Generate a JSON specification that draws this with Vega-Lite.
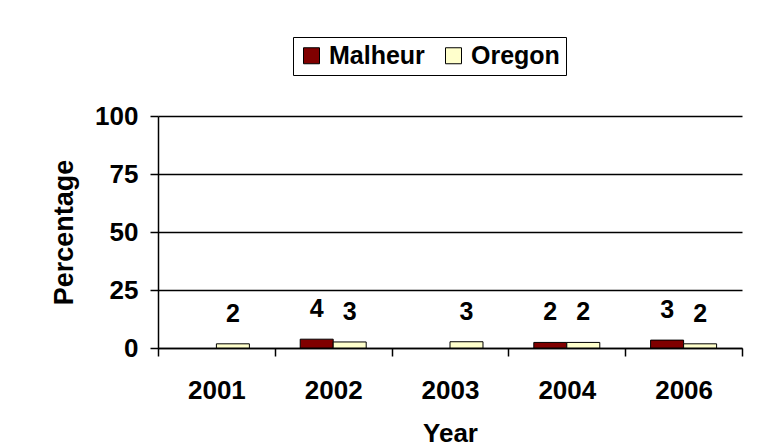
{
  "$schema": "https://vega.github.io/schema/vega-lite/v6.json",
  "width": 584,
  "height": 232,
  "autosize": "none",
  "padding": {"left": 158, "top": 116, "right": 21, "bottom": 100},
  "background": "white",
  "data": {
    "values": [
      {"Year": "2001", "Region": "Oregon", "Percentage": 1.8},
      {"Year": "2002", "Region": "Malheur", "Percentage": 3.8},
      {"Year": "2002", "Region": "Oregon", "Percentage": 2.6},
      {"Year": "2003", "Region": "Oregon", "Percentage": 2.7},
      {"Year": "2004", "Region": "Malheur", "Percentage": 2.4},
      {"Year": "2004", "Region": "Oregon", "Percentage": 2.4},
      {"Year": "2006", "Region": "Malheur", "Percentage": 3.4},
      {"Year": "2006", "Region": "Oregon", "Percentage": 1.8}
    ]
  },
  "encoding": {
    "x": {
      "field": "Year",
      "type": "nominal",
      "sort": ["2001", "2002", "2003", "2004", "2006"],
      "scale": {"paddingInner": 0, "paddingOuter": 0},
      "title": "Year",
      "axis": {
        "tickBand": "extent",
        "labelAngle": 0,
        "domainColor": "black",
        "domainWidth": 1.5,
        "tickColor": "black",
        "tickWidth": 1.5,
        "tickSize": 8,
        "labelFont": "Liberation Sans",
        "labelFontWeight": "bold",
        "labelFontSize": 26,
        "labelColor": "black",
        "labelPadding": 21,
        "titleFont": "Liberation Sans",
        "titleFontWeight": "bold",
        "titleFontSize": 26,
        "titleColor": "black",
        "titlePadding": 17
      }
    },
    "xOffset": {
      "field": "Region",
      "type": "nominal",
      "scale": {"domain": ["Malheur", "Oregon"], "paddingInner": 0, "paddingOuter": 0.77}
    },
    "y": {
      "field": "Percentage",
      "type": "quantitative",
      "scale": {"domain": [0, 100], "nice": false},
      "title": "Percentage",
      "axis": {
        "values": [0, 25, 50, 75, 100],
        "grid": true,
        "gridColor": "black",
        "gridWidth": 1.5,
        "gridOpacity": 1,
        "domainColor": "black",
        "domainWidth": 1.5,
        "tickColor": "black",
        "tickWidth": 1.5,
        "tickSize": 8,
        "labelFont": "Liberation Sans",
        "labelFontWeight": "bold",
        "labelFontSize": 26,
        "labelColor": "black",
        "labelPadding": 12,
        "titleFont": "Liberation Sans",
        "titleFontWeight": "bold",
        "titleFontSize": 27,
        "titleColor": "black",
        "titlePadding": 16
      }
    }
  },
  "layer": [
    {
      "mark": {"type": "bar", "stroke": "black", "strokeWidth": 1},
      "encoding": {
        "color": {
          "field": "Region",
          "type": "nominal",
          "scale": {"domain": ["Malheur", "Oregon"], "range": ["#800000", "#FFFFCC"]},
          "legend": {
            "title": null,
            "orient": "none",
            "legendX": 135,
            "legendY": -79,
            "direction": "horizontal",
            "strokeColor": "black",
            "fillColor": "white",
            "padding": 6,
            "symbolType": "square",
            "symbolSize": 256,
            "symbolStrokeColor": "black",
            "symbolStrokeWidth": 1,
            "symbolOpacity": 1,
            "labelFont": "Liberation Sans",
            "labelFontWeight": "bold",
            "labelFontSize": 25,
            "labelColor": "black",
            "labelOffset": 5,
            "columnPadding": 16
          }
        }
      }
    },
    {
      "mark": {
        "type": "text",
        "dy": -17,
        "baseline": "bottom",
        "font": "Liberation Sans",
        "fontWeight": "bold",
        "fontSize": 25,
        "color": "black"
      },
      "encoding": {
        "text": {"field": "Percentage", "type": "quantitative", "format": ".0f"}
      }
    }
  ],
  "config": {"view": {"stroke": null}}
}
